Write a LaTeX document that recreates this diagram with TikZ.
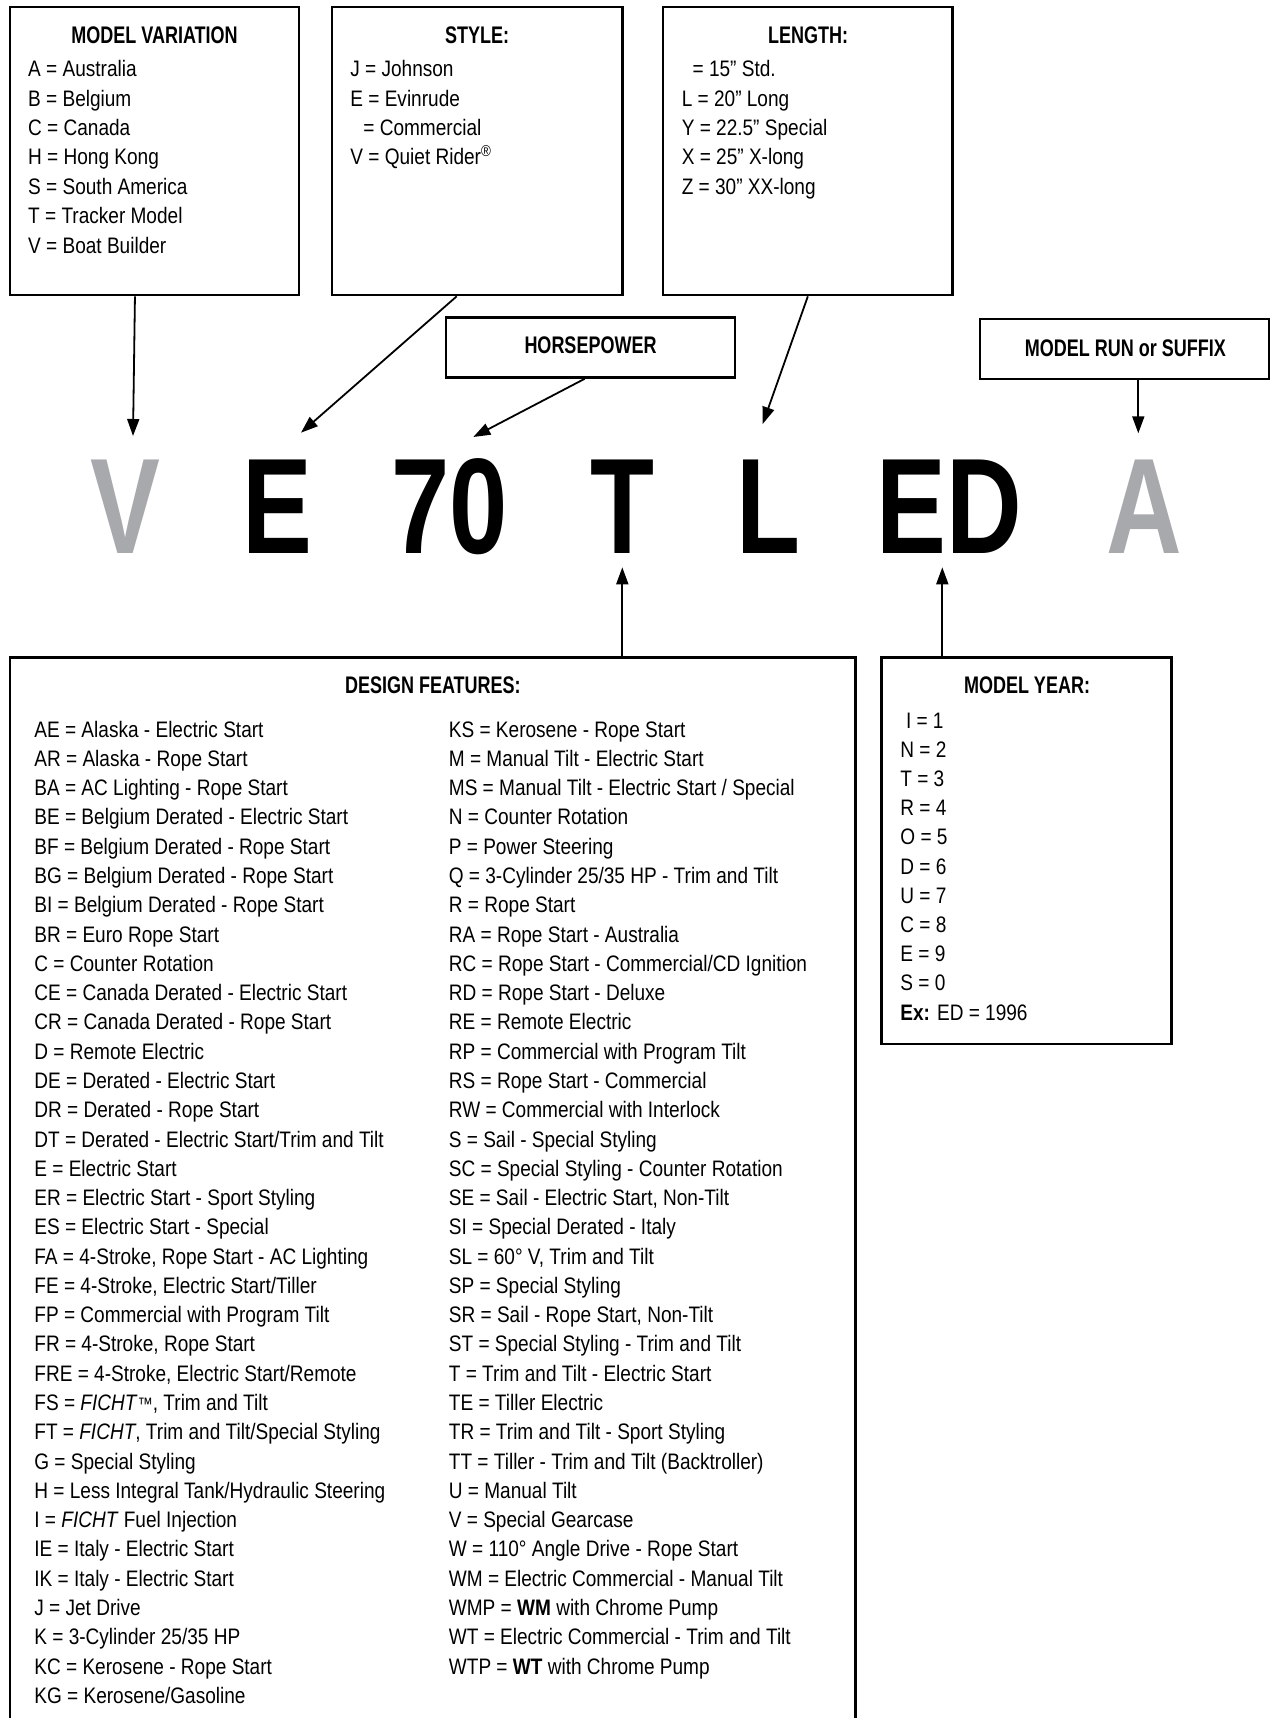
\documentclass[tikz,border=0pt]{standalone}
\usepackage{fontspec}
\setmainfont{Liberation Sans}[FakeStretch=0.85]
\newfontfamily\headfont{Liberation Sans}[FakeStretch=0.75]
\newfontfamily\platefont{Liberation Sans}[FakeStretch=0.77]
\usetikzlibrary{arrows.meta, calc}
\definecolor{plategray}{HTML}{A7A9AC}

\begin{document}
\begin{tikzpicture}[x=0.5pt, y=-0.5pt,
    panel/.style={draw, line width=1.3pt, inner sep=0pt},
    head/.style={inner sep=0pt, anchor=base, font=\headfont\bfseries\fontsize{12}{14}\selectfont},
    item/.style={inner sep=0pt, anchor=base west, font=\fontsize{11.2}{14}\selectfont},
    letter/.style={inner sep=0pt, anchor=base, font=\platefont\bfseries\fontsize{68}{68}\selectfont},
    pointer/.style={line width=0.9pt, -{Triangle[length=8.5pt, width=6pt]}}]
    \useasboundingbox (0,0) rectangle (1270,1718);
    \clip (0,0) rectangle (1270,1718);

    % Caixas de cima
    \node[panel, minimum width=144.5pt, minimum height=144pt] (mv) at (154.5,151) {};
    \node[panel, minimum width=145.25pt, minimum height=144pt] (style) at (477.25,151) {};
    \node[panel, minimum width=144.85pt, minimum height=144pt] (len) at (807.85,151) {};
    \node[panel, minimum width=144.5pt, minimum height=30pt] (hp) at (590.5,347.5) {};
    \node[panel, minimum width=144.5pt, minimum height=30pt] (run) at (1124.5,349) {};

    \node[head] (mvh) at (154.5,43.3) {MODEL VARIATION};
    \foreach \t [count=\k] in {{A = Australia}, {B = Belgium}, {C = Canada}, {H = Hong Kong},
        {S = South America}, {T = Tracker Model}, {V = Boat Builder}}
        \node[item] (mvl\k) at (27.8,{76.7+29.4*(\k-1)}) {\t};

    \node[head] (styleh) at (477,43.3) {STYLE:};
    \foreach \t [count=\k] in {{J = Johnson}, {E = Evinrude}, {\hspace*{6.5pt}= Commercial},
        {V = Quiet Rider\textsuperscript{®}}}
        \node[item] (stl\k) at (350,{76.7+29.4*(\k-1)}) {\t};

    \node[head] (lenh) at (808,43.3) {LENGTH:};
    \foreach \t [count=\k] in {{\hspace*{5.4pt}= 15” Std.}, {L = 20” Long}, {Y = 22.5” Special},
        {X = 25” X-long}, {Z = 30” XX-long}}
        \node[item] (lenl\k) at (681.4,{76.7+29.4*(\k-1)}) {\t};

    \node[head] (hph) at (590.5,353.3) {HORSEPOWER};
    \node[head] (runh) at (1125.3,356) {MODEL RUN or SUFFIX};

    % Codigo do modelo
    \node[letter, text=plategray] (lV) at (125.8,553.5) {V};
    \node[letter] (lE) at (277,553.5) {E};
    \node[letter] (l70) at (450,553.5) {70};
    \node[letter] (lT) at (622.7,553.5) {T};
    \node[letter] (lL) at (768.3,553.5) {L};
    \node[letter] (lED) at (949.3,553.5) {ED};
    \node[letter, text=plategray] (lA) at (1144.2,553.5) {A};

    % Pontas das setas
    \coordinate (tV) at (133,436);
    \coordinate (tE) at (301,432.7);
    \coordinate (t70) at (473.3,437);
    \coordinate (tL) at (762.7,424);
    \coordinate (tA) at (1138.3,433.3);
    \coordinate (tT) at (622.3,567.3);
    \coordinate (tED) at (942.3,567.3);

    % Caixas de baixo
    \node[panel, minimum width=422.85pt, minimum height=536.15pt] (design) at (432.85,1193.85) {};
    \node[panel, minimum width=145.1pt, minimum height=193.15pt] (year) at (1026.6,850.85) {};

    % Setas
    \draw[pointer] ($(mv.south west)!0.433!(mv.south east)$) -- (tV);
    \draw[pointer] ($(style.south west)!0.43!(style.south east)$) -- (tE);
    \draw[pointer] ($(hp.south west)!0.48!(hp.south east)$) -- (t70);
    \draw[pointer] (len.south) -- (tL);
    \draw[pointer] (run.south -| tA) -- (tA);
    \draw[pointer] (design.north -| tT) -- (tT);
    \draw[pointer] (year.north -| tED) -- (tED);

    \node[head] (designh) at (432.85,693.3) {DESIGN FEATURES:};
    \foreach \t [count=\k] in {{AE = Alaska - Electric Start}, {AR = Alaska - Rope Start},
        {BA = AC Lighting - Rope Start}, {BE = Belgium Derated - Electric Start},
        {BF = Belgium Derated - Rope Start}, {BG = Belgium Derated - Rope Start},
        {BI = Belgium Derated - Rope Start}, {BR = Euro Rope Start}, {C = Counter Rotation},
        {CE = Canada Derated - Electric Start}, {CR = Canada Derated - Rope Start},
        {D = Remote Electric}, {DE = Derated - Electric Start}, {DR = Derated - Rope Start},
        {DT = Derated - Electric Start/Trim and Tilt}, {E = Electric Start},
        {ER = Electric Start - Sport Styling}, {ES = Electric Start - Special},
        {FA = 4-Stroke, Rope Start - AC Lighting}, {FE = 4-Stroke, Electric Start/Tiller},
        {FP = Commercial with Program Tilt}, {FR = 4-Stroke, Rope Start},
        {FRE = 4-Stroke, Electric Start/Remote}, {FS = \textit{FICHT}{\small ™}, Trim and Tilt},
        {FT = \textit{FICHT}, Trim and Tilt/Special Styling}, {G = Special Styling},
        {H = Less Integral Tank/Hydraulic Steering}, {I = \textit{FICHT} Fuel Injection},
        {IE = Italy - Electric Start}, {IK = Italy - Electric Start}, {J = Jet Drive},
        {K = 3-Cylinder 25/35 HP}, {KC = Kerosene - Rope Start}, {KG = Kerosene/Gasoline}}
        \node[item] (dfa\k) at (34,{737.1+29.28*(\k-1)}) {\t};
    \foreach \t [count=\k] in {{KS = Kerosene - Rope Start}, {M = Manual Tilt - Electric Start},
        {MS = Manual Tilt - Electric Start / Special}, {N = Counter Rotation},
        {P = Power Steering}, {Q = 3-Cylinder 25/35 HP - Trim and Tilt}, {R = Rope Start},
        {RA = Rope Start - Australia}, {RC = Rope Start - Commercial/CD Ignition},
        {RD = Rope Start - Deluxe}, {RE = Remote Electric},
        {RP = Commercial with Program Tilt}, {RS = Rope Start - Commercial},
        {RW = Commercial with Interlock}, {S = Sail - Special Styling},
        {SC = Special Styling - Counter Rotation}, {SE = Sail - Electric Start, Non-Tilt},
        {SI = Special Derated - Italy}, {SL = 60° V, Trim and Tilt}, {SP = Special Styling},
        {SR = Sail - Rope Start, Non-Tilt}, {ST = Special Styling - Trim and Tilt},
        {T = Trim and Tilt - Electric Start}, {TE = Tiller Electric},
        {TR = Trim and Tilt - Sport Styling}, {TT = Tiller - Trim and Tilt (Backtroller)},
        {U = Manual Tilt}, {V = Special Gearcase}, {W = 110° Angle Drive - Rope Start},
        {WM = Electric Commercial - Manual Tilt}, {WMP = \textbf{WM} with Chrome Pump},
        {WT = Electric Commercial - Trim and Tilt}, {WTP = \textbf{WT} with Chrome Pump}}
        \node[item] (dfb\k) at (448.5,{737.1+29.28*(\k-1)}) {\t};

    \node[head] (yearh) at (1027,693.3) {MODEL YEAR:};
    \foreach \t [count=\k] in {{\hspace*{2.8pt}I = 1}, {N = 2}, {T = 3}, {R = 4}, {O = 5},
        {D = 6}, {U = 7}, {C = 8}, {E = 9}, {S = 0}, {\textbf{Ex:} ED = 1996}}
        \node[item] (yl\k) at (900,{728.3+29.17*(\k-1)}) {\t};
\end{tikzpicture}
\end{document}
